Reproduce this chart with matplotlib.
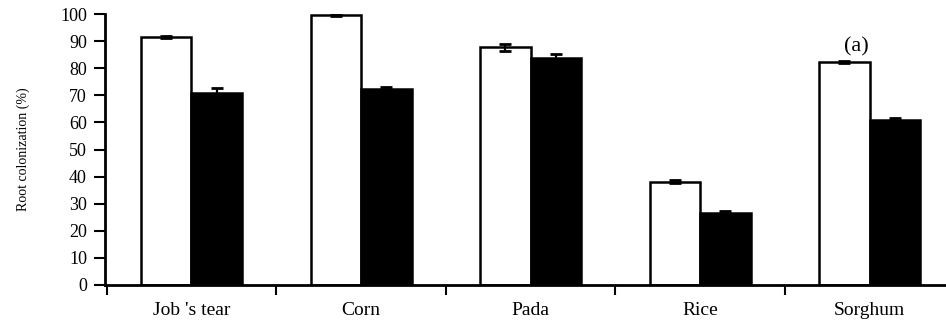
import matplotlib
matplotlib.use("Agg")
import matplotlib.pyplot as plt
import numpy as np

plt.rcParams['font.family'] = ['Liberation Serif', 'DejaVu Serif']

crops = ["Job 's tear", "Corn", "Pada", "Rice", "Sorghum"]
white_vals = [91.6, 99.6, 87.7, 38.1, 82.3]
white_err = [0.5, 0.4, 1.4, 0.5, 0.4]
black_vals = [71.0, 72.2, 83.7, 26.7, 60.9]
black_err = [1.6, 1.0, 1.5, 0.5, 0.8]
yticks = [0, 10, 20, 30, 40, 50, 60, 70, 80, 90, 100]

x = np.arange(len(crops))
w = 0.298

fig = plt.figure(figsize=(9.46, 3.29), dpi=100)
ax = fig.add_axes([0.111, 0.134, 0.889, 0.823])

ax.bar(x - w / 2, white_vals, w, color='white', edgecolor='black', linewidth=1.8,
       yerr=white_err, capsize=4, error_kw=dict(ecolor='black', elinewidth=1.6, capthick=2))
ax.bar(x + w / 2, black_vals, w, color='black', edgecolor='black', linewidth=1.8,
       yerr=black_err, capsize=4, error_kw=dict(ecolor='black', elinewidth=1.6, capthick=2))

ax.set_xlim(-0.51, 4.45)
ax.set_ylim(0, 100)
ax.set_yticks(yticks)
ax.set_yticklabels([str(v) for v in yticks], fontsize=13)

# ticks sit between the groups
ax.set_xticks(np.arange(len(crops)) - 0.5)
ax.set_xticklabels([])
ax.set_xticks(x, minor=True)
ax.set_xticklabels(crops, minor=True, fontsize=14)
ax.tick_params(axis='x', which='major', direction='out', length=7, width=1.5)
ax.tick_params(axis='x', which='minor', length=0, pad=12)
ax.tick_params(axis='y', direction='out', length=8, width=1.5, pad=5)

for s in ['top', 'right']:
    ax.spines[s].set_visible(False)
for s in ['left', 'bottom']:
    ax.spines[s].set_linewidth(2)

ax.set_ylabel('Root colonization (%)', fontsize=10, labelpad=22)
ax.text(0.894, 0.88, '(a)', transform=ax.transAxes, fontsize=16, ha='center', va='center')

fig.savefig('out.png', dpi=100)
